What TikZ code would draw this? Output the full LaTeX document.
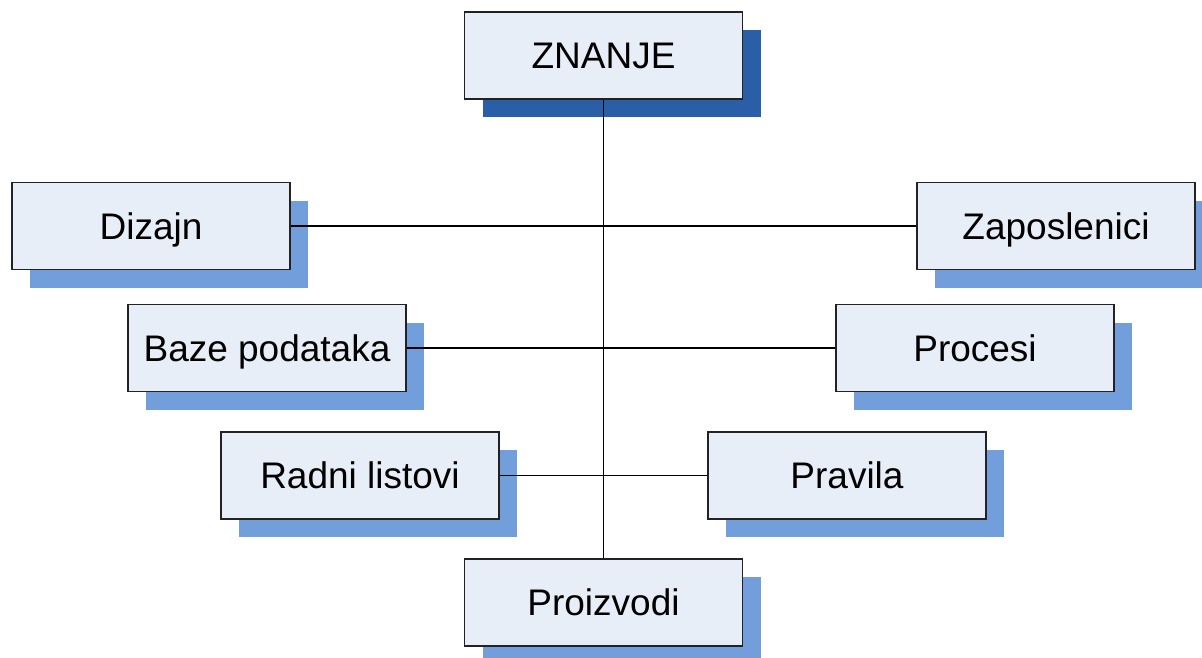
\documentclass[tikz,border=0pt]{standalone}
\usepackage{fontspec}
\setmainfont{Liberation Sans}
\usetikzlibrary{shadows}
\definecolor{boxfill}{HTML}{E8EEF8}
\definecolor{shadelight}{HTML}{729FDB}
\definecolor{shadedark}{HTML}{2A5EA7}
\definecolor{edgecol}{HTML}{222222}
\tikzset{
  topic/.style={draw=edgecol, line width=1.3pt, fill=boxfill,
    minimum width=278pt, minimum height=87pt, inner sep=0pt,
    text height=26.5pt, text depth=0pt,
    font=\fontsize{37}{44}\selectfont,
    drop shadow={shadow xshift=18pt, shadow yshift=-18pt,
      fill=shadelight, opacity=1, draw=none}},
  roottopic/.style={topic,
    drop shadow={shadow xshift=18pt, shadow yshift=-18pt,
      fill=shadedark, opacity=1, draw=none}},
  link/.style={draw=black, line width=1.1pt}
}
\begin{document}
\begin{tikzpicture}[x=1pt, y=-1pt]
  \useasboundingbox (0,0) rectangle (1202,657);
  \clip (0,0) rectangle (1202,657);
  % boxes
  \node[roottopic] (znanje) at (603.5,55.5) {ZNANJE};
  \node[topic] (dizajn) at (151,226) {Dizajn};
  \node[topic] (zaposlenici) at (1056,226) {Zaposlenici};
  \node[topic] (baze) at (267,348) {Baze podataka};
  \node[topic] (procesi) at (975,348) {Procesi};
  \node[topic] (radni) at (360,475.5) {Radni listovi};
  \node[topic] (pravila) at (847,475.5) {Pravila};
  \node[topic] (proizvodi) at (603.5,602.5) {Proizvodi};
  % connectors, drawn over the shadows
  \draw[link] (znanje.south) -- (proizvodi.north);
  \draw[link] (dizajn.east) -- (zaposlenici.west);
  \draw[link] (baze.east) -- (procesi.west);
  \draw[link] (radni.east) -- (pravila.west);
\end{tikzpicture}
\end{document}
